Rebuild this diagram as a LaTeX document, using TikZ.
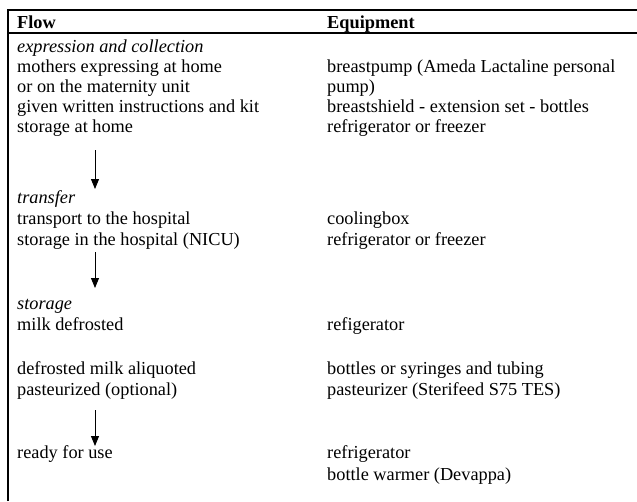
\documentclass[tikz,border=0pt]{standalone}
\usepackage{fontspec}
\setmainfont{Liberation Serif}
\usetikzlibrary{arrows.meta}
\begin{document}
\begin{tikzpicture}[x=1pt,y=-1pt,
  txt/.style={anchor=base west,inner sep=0pt,font=\fontsize{18.3}{20}\selectfont},
  head/.style={txt,font=\fontsize{18.3}{20}\selectfont\bfseries},
  sect/.style={txt,font=\fontsize{18.3}{20}\selectfont\itshape},
  rule/.style={line width=1.2pt},
  flowarrow/.style={line width=0.9pt,-{Triangle[length=10pt,width=8pt]}}]
\useasboundingbox (0,0) rectangle (637,501);
\fill[white] (0,0) rectangle (637,501);
% table rules
\draw[rule] (8,501) -- (8,10) -- (637,10);
\draw[rule] (8,33) -- (637,33);
% headers
\node[head] (hflow) at (17,28) {Flow};
\node[head] (hequip) at (327,28) {Equipment};
% flow column
\node[sect] (s1) at (17,52) {expression and collection};
\node[txt] (f1) at (17,72) {mothers expressing at home};
\node[txt] (f2) at (17,92) {or on the maternity unit};
\node[txt] (f3) at (17,112) {given written instructions and kit};
\node[txt] (f4) at (17,132) {storage at home};
\node[sect] (s2) at (17,203) {transfer};
\node[txt] (f5) at (17,224) {transport to the hospital};
\node[txt] (f6) at (17,245) {storage in the hospital (NICU)};
\node[sect] (s3) at (17,309) {storage};
\node[txt] (f7) at (17,330) {milk defrosted};
\node[txt] (f8) at (17,374) {defrosted milk aliquoted};
\node[txt] (f9) at (17,395) {pasteurized (optional)};
\node[txt] (f10) at (17,458) {ready for use};
% equipment column
\node[txt] (e1) at (327,72) {breastpump (Ameda Lactaline personal};
\node[txt] (e2) at (327,92) {pump)};
\node[txt] (e3) at (327,112) {breastshield - extension set - bottles};
\node[txt] (e4) at (327,132) {refrigerator or freezer};
\node[txt] (e5) at (327,224) {coolingbox};
\node[txt] (e6) at (327,245) {refrigerator or freezer};
\node[txt] (e7) at (327,330) {refigerator};
\node[txt] (e8) at (327,374) {bottles or syringes and tubing};
\node[txt] (e9) at (327,395) {pasteurizer (Sterifeed S75 TES)};
\node[txt] (e10) at (327,458) {refrigerator};
\node[txt] (e11) at (327,480) {bottle warmer (Devappa)};
% arrows
\coordinate (a1s) at (95,150);
\coordinate (a1e) at (95,189);
\coordinate (a2s) at (95,252);
\coordinate (a2e) at (95,288);
\coordinate (a3s) at (95,410);
\coordinate (a3e) at (95,446);
\draw[flowarrow] (a1s) -- (a1e);
\draw[flowarrow] (a2s) -- (a2e);
\draw[flowarrow] (a3s) -- (a3e);
\end{tikzpicture}
\end{document}
